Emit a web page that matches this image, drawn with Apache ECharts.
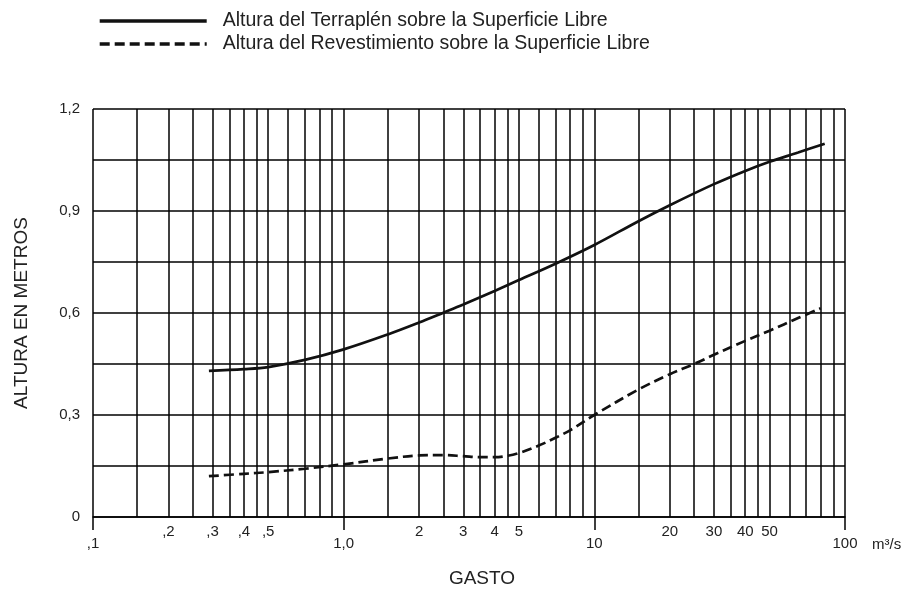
<!DOCTYPE html>
<html>
<head>
<meta charset="utf-8">
<script src="https://cdn.jsdelivr.net/npm/echarts@6/dist/echarts.min.js"></script>
<style>
  html, body { margin: 0; padding: 0; background: #fff; }
  #chart { width: 904px; height: 590px; }
</style>
</head>
<body>
<div id="chart"></div>
<script>
// ---- data ----
const seriesNames = [
  'Altura del Terraplén sobre la Superficie Libre',
  'Altura del Revestimiento sobre la Superficie Libre'
];
const terraplenX = [0.29, 0.4, 0.5, 0.7, 1.0, 1.5, 2, 2.5, 3, 4, 5, 7, 10, 15, 20, 30, 40, 50, 65, 83];
const terraplenY = [0.430, 0.435, 0.441, 0.462, 0.493, 0.537, 0.572, 0.601, 0.625, 0.665, 0.697, 0.745, 0.800, 0.870, 0.917, 0.979, 1.018, 1.045, 1.072, 1.098];
const revestX = [0.29, 0.4, 0.5, 0.7, 1.0, 1.5, 2, 2.5, 3, 3.5, 4, 4.5, 5, 6, 7, 8, 10, 15, 20, 25, 30, 40, 50, 65, 80];
const revestY = [0.120, 0.127, 0.132, 0.142, 0.155, 0.172, 0.181, 0.182, 0.179, 0.176, 0.176, 0.180, 0.188, 0.210, 0.233, 0.255, 0.300, 0.375, 0.420, 0.450, 0.477, 0.518, 0.548, 0.585, 0.614];

// vertical grid lines of the log paper
const gridXValues = [0.1, 0.15, 0.2, 0.25, 0.3, 0.35, 0.4, 0.45, 0.5, 0.6, 0.7, 0.8, 0.9,
                     1, 1.5, 2, 2.5, 3, 3.5, 4, 4.5, 5, 6, 7, 8, 9,
                     10, 15, 20, 25, 30, 35, 40, 45, 50, 60, 70, 80, 90, 100];
// x tick labels
const minorLabelValues = [0.2, 0.3, 0.4, 0.5, 2, 3, 4, 5, 20, 30, 40, 50];
const minorLabelTexts  = [',2', ',3', ',4', ',5', '2', '3', '4', '5', '20', '30', '40', '50'];
const decadeValues = [0.1, 1, 10, 100];
const decadeTexts  = [',1', '1,0', '10', '100'];
// y ticks
const yLabelValues = [0, 0.3, 0.6, 0.9, 1.2];
const yLabelTexts  = ['0', '0,3', '0,6', '0,9', '1,2'];

const FONT = '"Liberation Sans", Arial, sans-serif';
const TXT = '#222';

function pickLabel(values, texts) {
  return function (v) {
    for (let i = 0; i < values.length; i++) {
      if (Math.abs(values[i] - v) < 1e-6 * Math.max(1, values[i])) return texts[i];
    }
    return '';
  };
}

const chart = echarts.init(document.getElementById('chart'), null, { renderer: 'canvas' });
chart.setOption({
  animation: false,
  backgroundColor: '#fff',
  textStyle: { fontFamily: FONT },
  legend: {
    orient: 'vertical',
    left: 93,
    top: 6,
    itemWidth: 107,
    itemHeight: 14,
    itemGap: 3,
    data: seriesNames,
    itemStyle: { opacity: 0 },
    lineStyle: { width: 3.4 },
    textStyle: { fontSize: 19.5, lineHeight: 20, color: TXT, fontFamily: FONT, padding: [0, 0, 0, 11] }
  },
  grid: { left: 93, right: 59, top: 109, bottom: 73, containLabel: false, outerBoundsMode: 'none' },
  xAxis: [
    {
      type: 'log',
      logBase: 10,
      min: 0.1,
      max: 100,
      position: 'bottom',
      name: 'GASTO',
      nameLocation: 'middle',
      nameGap: 52,
      nameTextStyle: { fontSize: 19, color: TXT, fontFamily: FONT, padding: [0, 0, 0, 26] },
      axisLine: { show: true, lineStyle: { color: '#000', width: 1.5 } },
      axisTick: { show: true, customValues: decadeValues, length: 13, lineStyle: { color: '#000', width: 1.5 } },
      axisLabel: {
        customValues: minorLabelValues,
        formatter: pickLabel(minorLabelValues, minorLabelTexts),
        margin: 7, fontSize: 15, color: TXT, fontFamily: FONT
      },
      splitLine: { show: false },
      minorTick: { show: false },
      minorSplitLine: { show: false }
    },
    {
      type: 'log',
      logBase: 10,
      min: 0.1,
      max: 100,
      position: 'bottom',
      offset: 0,
      name: 'm³/s',
      nameLocation: 'end',
      nameGap: 27,
      nameTextStyle: { fontSize: 15, color: TXT, fontFamily: FONT, verticalAlign: 'top', padding: [20, 0, 0, 0] },
      axisLine: { show: false },
      axisTick: { show: false },
      axisLabel: {
        customValues: decadeValues,
        formatter: pickLabel(decadeValues, decadeTexts),
        margin: 19, fontSize: 15, color: TXT, fontFamily: FONT
      },
      splitLine: { show: false }
    }
  ],
  yAxis: {
    type: 'value',
    min: 0,
    max: 1.2,
    interval: 0.15,
    name: 'ALTURA EN METROS',
    nameLocation: 'middle',
    nameRotate: 90,
    nameGap: 62,
    nameTextStyle: { fontSize: 19, color: TXT, fontFamily: FONT },
    axisLine: { show: false },
    axisTick: { show: false },
    axisLabel: {
      formatter: pickLabel(yLabelValues, yLabelTexts),
      margin: 13, fontSize: 15, color: TXT, fontFamily: FONT
    },
    splitLine: { show: true, lineStyle: { color: '#000', width: 1.5 } }
  },
  series: [
    {
      name: 'grid',
      type: 'line',
      xAxisIndex: 0,
      data: [],
      silent: true,
      markLine: {
        silent: true,
        symbol: ['none', 'none'],
        label: { show: false },
        lineStyle: { color: '#000', width: 1.5, type: 'solid' },
        emphasis: { disabled: true },
        data: gridXValues.map(v => ({ xAxis: v }))
      }
    },
    {
      name: seriesNames[0],
      type: 'line',
      xAxisIndex: 0,
      smooth: 0.35,
      symbol: 'none',
      lineStyle: { color: '#111', width: 2.7, type: 'solid' },
      itemStyle: { color: '#111' },
      data: terraplenX.map((x, i) => [x, terraplenY[i]]),
      z: 5
    },
    {
      name: seriesNames[1],
      type: 'line',
      xAxisIndex: 0,
      smooth: 0.35,
      symbol: 'none',
      lineStyle: { color: '#111', width: 2.7, type: [10, 5] },
      itemStyle: { color: '#111' },
      data: revestX.map((x, i) => [x, revestY[i]]),
      z: 5
    }
  ]
});
</script>
</body>
</html>
